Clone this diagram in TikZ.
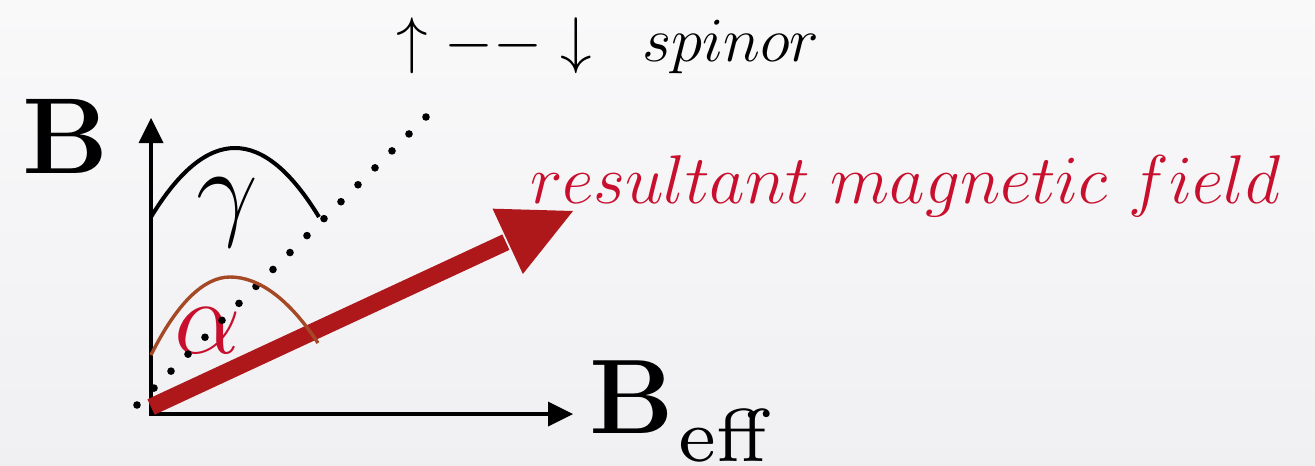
\RequirePackage{fix-cm}
\documentclass[tikz,border=0pt]{standalone}
\usetikzlibrary{calc}
\definecolor{bgtop}{RGB}{249,249,250}
\definecolor{bgbot}{RGB}{240,240,243}
\definecolor{arrowred}{RGB}{174,24,27}
\definecolor{textred}{RGB}{200,16,46}
\definecolor{alphabrown}{RGB}{165,72,38}
\font\effont=cmr7 at 75pt
\tikzset{
  axisline/.style={line width=4.5pt, black},
  dotmark/.style={fill=black},
  curveline/.style={line width=4pt},
  lbl/.style={anchor=base west, inner sep=0pt, outer sep=0pt},
}
\begin{document}
\begin{tikzpicture}[x=1pt,y=-1pt]
\useasboundingbox (0,0) rectangle (1315,466);
\shade[top color=bgtop, bottom color=bgbot] (0,0) rectangle (1315,466);
% coordinates
\coordinate (O) at (151,414);
\coordinate (Ytip) at (151,118);
\coordinate (Xtip) at (573,414);
\coordinate (D0) at (137,405);
\coordinate (D1) at (426,117);
\coordinate (S) at (151,407);
\coordinate (T) at (573,211);
% axes
\draw[axisline] (151,416) -- (151,141);
\draw[axisline] (149,414) -- (550,414);
\fill (Ytip) -- (138.5,143) -- (163.5,143) -- cycle;
\fill (Xtip) -- (548,401.5) -- (548,426.5) -- cycle;
% labels
\node[lbl] (Bl) at (23,173) {\fontsize{108}{120}\selectfont\textbf{B}};
\node[lbl] (Beff) at (589,433) {\fontsize{106}{115}\selectfont\textbf{B}\hspace{5pt}\raisebox{-28pt}{\effont eff}};
\node[lbl] (spin) at (396,61) {\fontsize{63}{70}\selectfont$\uparrow--\downarrow\hspace{33pt}spinor$};
\node[lbl, text=textred] (res) at (530,203) {\fontsize{69}{75}\selectfont$resultant\ magnetic\ field$};
\node[lbl, text=textred] (alp) at (174,353) {\fontsize{106}{115}\selectfont$\alpha$};
% dotted line
\foreach \i in {0,...,17} \fill[dotmark] ($(D0)!\i/17!(D1)$) circle (3.8pt);
% red arrow
\coordinate (Hb) at ($(T)!72pt!(S)$);
\draw[arrowred, line width=17pt] (S) -- ($(Hb)!-2pt!(T)$);
\fill[arrowred] (T) -- ($(Hb)!36pt!90:(T)$) -- ($(Hb)!36pt!-90:(T)$) -- cycle;
% curves
\draw[curveline, black] (151,217) .. controls (207,125) and (263,125) .. (319,217);
\draw[curveline, alphabrown, line width=3.4pt] (151,355) .. controls (177,303) and (204,277) .. (230,277)
   .. controls (259,277) and (289,299) .. (318,343);
\node[lbl] (gam) at (196,225) {\fontsize{110}{120}\selectfont$\gamma$};
\end{tikzpicture}
\end{document}
